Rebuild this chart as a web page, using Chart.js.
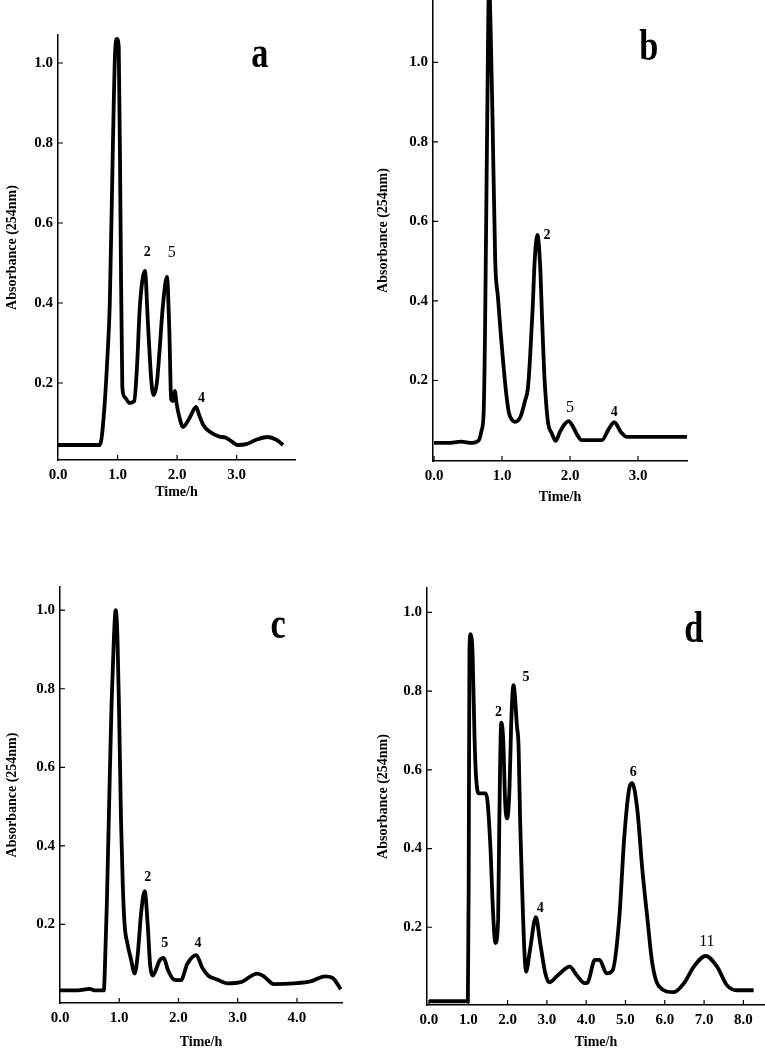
<!DOCTYPE html>
<html>
<head>
<meta charset="utf-8">
<title>Absorbance (254nm) vs Time/h, panels a-d</title>
<script src="https://cdn.jsdelivr.net/npm/chart.js@4.4.1/dist/chart.umd.min.js"></script>
<style>
  html, body { margin: 0; padding: 0; background: #fff; overflow: hidden; }
  body { width: 765px; height: 1049px; position: relative; }
  canvas { position: absolute; }
</style>
</head>
<body>
<canvas id="chartA"></canvas>
<canvas id="chartB"></canvas>
<canvas id="chartC"></canvas>
<canvas id="chartD"></canvas>
<script>
/* ─── Data ───────────────────────────────────────────────────── */

const timeA = [0, 0.3, 0.7, 0.73, 0.78, 0.83, 0.87, 0.92, 0.96, 0.99, 1.02, 1.05, 1.08, 1.12, 1.2, 1.28,
               1.33, 1.37, 1.42, 1.46, 1.51, 1.57, 1.61, 1.66, 1.7, 1.76, 1.83, 1.87, 1.9, 1.93, 1.96, 1.99,
               2.03, 2.1, 2.2, 2.32, 2.37, 2.44, 2.55, 2.71, 2.8, 2.88, 3.02, 3.16, 3.33, 3.52, 3.67, 3.78];
const absA  = [0.045, 0.045, 0.045, 0.06, 0.14, 0.265, 0.4, 0.78, 1.03, 1.06, 1.04, 0.61, 0.19, 0.165, 0.15, 0.155,
               0.25, 0.38, 0.46, 0.48, 0.35, 0.2, 0.17, 0.2, 0.27, 0.39, 0.465, 0.33, 0.16, 0.155, 0.18, 0.15,
               0.12, 0.09, 0.11, 0.14, 0.12, 0.095, 0.078, 0.066, 0.064, 0.058, 0.045, 0.047, 0.058, 0.065, 0.058, 0.045];

const timeB = [0, 0.2, 0.4, 0.56, 0.66, 0.7, 0.73, 0.75, 0.78, 0.81, 0.83, 0.86, 0.9, 0.94, 0.98, 1.02, 1.06,
               1.1, 1.15, 1.19, 1.27, 1.34, 1.38, 1.41, 1.45, 1.48, 1.52, 1.56, 1.59, 1.62, 1.65, 1.68, 1.73,
               1.79, 1.85, 1.92, 1.98, 2.04, 2.1, 2.17, 2.47, 2.56, 2.65, 2.75, 2.84, 3.2, 3.72];
const absB  = [0.043, 0.043, 0.046, 0.043, 0.05, 0.075, 0.12, 0.32, 0.82, 1.2, 1.1, 0.86, 0.5, 0.41, 0.32, 0.24, 0.17,
               0.12, 0.1, 0.096, 0.108, 0.15, 0.18, 0.25, 0.38, 0.5, 0.566, 0.49, 0.35, 0.22, 0.14, 0.09, 0.068,
               0.048, 0.07, 0.09, 0.098, 0.085, 0.065, 0.05, 0.05, 0.075, 0.095, 0.07, 0.058, 0.058, 0.058];

const timeC = [0, 0.3, 0.5, 0.6, 0.74, 0.76, 0.79, 0.83, 0.87, 0.91, 0.94, 0.97, 1.0, 1.03, 1.06, 1.09, 1.14,
               1.2, 1.26, 1.31, 1.37, 1.43, 1.48, 1.52, 1.57, 1.62, 1.68, 1.75, 1.82, 1.92, 2.04, 2.15, 2.3,
               2.4, 2.5, 2.65, 2.83, 3.05, 3.33, 3.44, 3.61, 3.95, 4.23, 4.47, 4.6, 4.74];
const absC  = [0.032, 0.032, 0.036, 0.032, 0.032, 0.1, 0.25, 0.51, 0.76, 0.93, 1.0, 0.93, 0.72, 0.465, 0.3, 0.2, 0.15,
               0.11, 0.075, 0.12, 0.23, 0.285, 0.2, 0.1, 0.07, 0.085, 0.108, 0.115, 0.085, 0.06, 0.058, 0.1, 0.122,
               0.09, 0.07, 0.06, 0.05, 0.053, 0.075, 0.068, 0.048, 0.05, 0.055, 0.068, 0.064, 0.035];

const timeD = [0, 0.5, 0.99, 1.01, 1.03, 1.06, 1.09, 1.11, 1.16, 1.2, 1.27, 1.44, 1.49, 1.57, 1.62, 1.69, 1.76,
               1.79, 1.84, 1.89, 1.94, 1.99, 2.05, 2.09, 2.15, 2.24, 2.28, 2.32, 2.37, 2.43, 2.47, 2.57, 2.72,
               2.83, 2.96, 3.06, 3.28, 3.58, 3.76, 3.96, 4.04, 4.22, 4.34, 4.52, 4.67, 4.84, 4.97, 5.1, 5.17,
               5.3, 5.43, 5.56, 5.68, 5.85, 6.23, 6.49, 6.74, 7.04, 7.33, 7.58, 7.83, 8.26];
const absD  = [0.012, 0.012, 0.012, 0.3, 0.9, 0.945, 0.93, 0.895, 0.68, 0.58, 0.54, 0.54, 0.52, 0.39, 0.26, 0.16, 0.22,
               0.47, 0.72, 0.675, 0.515, 0.477, 0.556, 0.71, 0.815, 0.71, 0.66, 0.47, 0.3, 0.135, 0.087, 0.142, 0.226,
               0.16, 0.083, 0.06, 0.078, 0.1, 0.078, 0.058, 0.06, 0.117, 0.117, 0.083, 0.09, 0.22, 0.43, 0.555, 0.566,
               0.5, 0.345, 0.22, 0.11, 0.05, 0.035, 0.058, 0.1, 0.127, 0.1, 0.053, 0.04, 0.04];

// peak numbers written next to the trace (time, absorbance of the label)
const peakNamesA = ['2', '5', '4'];
const peakTimeA  = [1.5, 1.91, 2.41];
const peakAbsA   = [0.527, 0.525, 0.162];

const peakNamesB = ['2', '5', '4'];
const peakTimeB  = [1.66, 2.0, 2.65];
const peakAbsB   = [0.566, 0.131, 0.121];

const peakNamesC = ['2', '5', '4'];
const peakTimeC  = [1.48, 1.77, 2.33];
const peakAbsC   = [0.32, 0.152, 0.152];

const peakNamesD = ['2', '5', '4', '6', '11'];
const peakTimeD  = [1.77, 2.47, 2.83, 5.2, 7.07];
const peakAbsD   = [0.747, 0.836, 0.249, 0.594, 0.163];

const xTicksA = [0, 1, 2, 3];
const xTicksB = [0, 1, 2, 3];
const xTicksC = [0, 1, 2, 3, 4];
const xTicksD = [0, 1, 2, 3, 4, 5, 6, 7, 8];
const yTicks  = [0.2, 0.4, 0.6, 0.8, 1.0];

/* ─── Helpers ─────────────────────────────────────────────────── */

const SERIF = '"Liberation Serif", "Times New Roman", serif';

// small tick marks pointing into the plot
const inwardTicks = {
    id: 'inwardTicks',
    afterDraw(chart) {
        const { ctx, chartArea: area, scales: { x, y } } = chart;
        ctx.save();
        ctx.strokeStyle = '#000';
        ctx.lineWidth = 1.2;
        ctx.beginPath();
        x.ticks.forEach(t => {
            const px = x.getPixelForValue(t.value);
            if (px <= area.left + 1) return;
            ctx.moveTo(px, area.bottom);
            ctx.lineTo(px, area.bottom - 5);
        });
        y.ticks.forEach(t => {
            const py = y.getPixelForValue(t.value);
            ctx.moveTo(area.left, py);
            ctx.lineTo(area.left + 5, py);
        });
        ctx.stroke();
        ctx.restore();
    }
};

// peak numbers plus the big panel letter
const peakText = {
    id: 'peakText',
    afterDatasetsDraw(chart, args, opts) {
        const { ctx, scales: { x, y } } = chart;
        ctx.save();
        ctx.fillStyle = '#000';
        ctx.textAlign = 'center';
        ctx.textBaseline = 'middle';
        opts.names.forEach((name, i) => {
            const plain = opts.plain.includes(i);
            ctx.font = (plain ? '' : 'bold ') + (plain ? 16 : 14) + 'px ' + SERIF;
            ctx.fillText(name, x.getPixelForValue(opts.times[i]), y.getPixelForValue(opts.values[i]));
        });
        ctx.translate(x.getPixelForValue(opts.letterAt[0]), y.getPixelForValue(opts.letterAt[1]));
        ctx.scale(0.78, 1);
        ctx.textBaseline = 'alphabetic';
        ctx.font = 'bold 44px ' + SERIF;
        ctx.fillText(opts.letter, 0, 0);
        ctx.restore();
    }
};

function makePanel(canvasId, box, cfg) {
    const canvas = document.getElementById(canvasId);
    canvas.style.left = box.left + 'px';
    canvas.style.top = box.top + 'px';
    canvas.width = box.width;
    canvas.height = box.height;

    const tickFont = { family: SERIF, size: 15, weight: 'bold' };
    const titleFont = { family: SERIF, size: 14, weight: 'bold', lineHeight: 1 };

    return new Chart(canvas, {
        type: 'line',
        data: {
            datasets: [{
                data: cfg.time.map((t, i) => ({ x: t, y: cfg.abs[i] })),
                borderColor: '#000',
                borderWidth: 3.8,
                pointRadius: 0,
                cubicInterpolationMode: 'monotone',
                fill: false,
            }]
        },
        options: {
            responsive: false,
            animation: false,
            devicePixelRatio: 1,
            layout: { padding: { top: box.padTop, right: box.padRight, left: 0, bottom: 0 } },
            plugins: {
                legend: { display: false },
                tooltip: { enabled: false },
                peakText: {
                    names: cfg.names, times: cfg.peakTime, values: cfg.peakAbs,
                    plain: cfg.plain, letter: cfg.letter, letterAt: cfg.letterAt
                }
            },
            scales: {
                x: {
                    type: 'linear',
                    min: cfg.xRange[0],
                    max: cfg.xRange[1],
                    afterBuildTicks: s => { s.ticks = cfg.xTicks.map(v => ({ value: v })); },
                    afterFit: s => { s.height = box.axisH; s.paddingLeft = 0; s.paddingRight = 0; },
                    grid: { display: false, drawTicks: false },
                    border: { display: true, color: '#000', width: 1.5 },
                    ticks: { color: '#000', font: tickFont, padding: 6, autoSkip: false, maxRotation: 0,
                             callback: v => v.toFixed(1) },
                    title: { display: true, text: 'Time/h', color: '#000', font: titleFont, padding: 0 }
                },
                y: {
                    type: 'linear',
                    min: cfg.yRange[0],
                    max: cfg.yRange[1],
                    afterBuildTicks: s => { s.ticks = yTicks.map(v => ({ value: v })); },
                    afterFit: s => { s.width = box.axisW; s.paddingTop = 0; s.paddingBottom = 0; },
                    grid: { display: false, drawTicks: false },
                    border: { display: true, color: '#000', width: 1.5 },
                    ticks: { color: '#000', font: tickFont, padding: 5, callback: v => v.toFixed(1) },
                    title: { display: true, text: 'Absorbance (254nm)', color: '#000', font: titleFont, padding: 0 }
                }
            }
        },
        plugins: [inwardTicks, peakText]
    });
}

/* ─── Panels ──────────────────────────────────────────────────── */

makePanel('chartA',
    { left: 5, top: 0, width: 305, height: 499, axisW: 53, axisH: 39, padTop: 35, padRight: 15 },
    { time: timeA, abs: absA, xTicks: xTicksA, xRange: [0, 3.98], yRange: [0.0075, 1.07],
      names: peakNamesA, peakTime: peakTimeA, peakAbs: peakAbsA, plain: [1],
      letter: 'a', letterAt: [3.39, 0.99] });

makePanel('chartB',
    { left: 376, top: 0, width: 321, height: 504, axisW: 57, axisH: 43, padTop: 0, padRight: 10 },
    { time: timeB, abs: absB, xTicks: xTicksB, xRange: [-0.015, 3.72], yRange: [-0.0025, 1.157],
      names: peakNamesB, peakTime: peakTimeB, peakAbs: peakAbsB, plain: [1],
      letter: 'b', letterAt: [3.16, 1.006] });

makePanel('chartC',
    { left: 5, top: 552, width: 347, height: 497, axisW: 55, axisH: 46, padTop: 35, padRight: 10 },
    { time: timeC, abs: absC, xTicks: xTicksC, xRange: [0, 4.76], yRange: [0, 1.059],
      names: peakNamesC, peakTime: peakTimeC, peakAbs: peakAbsC, plain: [],
      letter: 'c', letterAt: [3.68, 0.929] });

makePanel('chartD',
    { left: 376, top: 552, width: 389, height: 497, axisW: 51, axisH: 44, padTop: 36, padRight: 0 },
    { time: timeD, abs: absD, xTicks: xTicksD, xRange: [-0.05, 8.55], yRange: [0.0025, 1.062],
      names: peakNamesD, peakTime: peakTimeD, peakAbs: peakAbsD, plain: [4],
      letter: 'd', letterAt: [6.74, 0.924] });
</script>
</body>
</html>
